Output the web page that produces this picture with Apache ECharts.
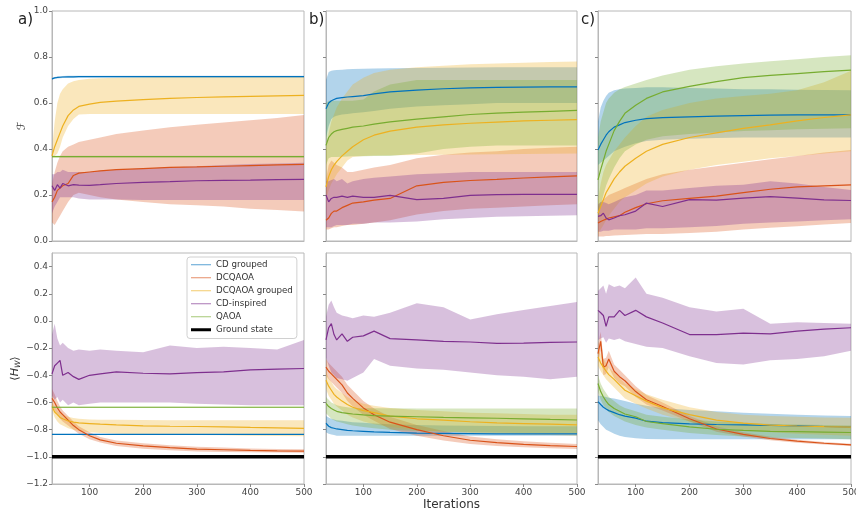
<!DOCTYPE html>
<html>
<head>
<meta charset="utf-8">
<script src="https://cdn.jsdelivr.net/npm/echarts@6/dist/echarts.min.js"></script>
<style>
  html, body { margin: 0; padding: 0; background: #fff; }
  #chart { width: 856px; height: 511px; }
</style>
</head>
<body>
<div id="chart"></div>
<script>
const iters = [30, 35, 40, 45, 50, 60, 70, 80, 100, 120, 150, 200, 250, 300, 350, 400, 450, 500];
const xTicks = [100, 200, 300, 400, 500];
const fTicks = [0, 0.2, 0.4, 0.6, 0.8, 1.0];
const hTicks = [-1.2, -1.0, -0.8, -0.6, -0.4, -0.2, 0.0, 0.2, 0.4];
const methods = ['CD grouped', 'DCQAOA', 'DCQAOA grouped', 'CD-inspired', 'QAOA'];
const colors = ['#0072BD', '#D95319', '#EDB120', '#7E2F8E', '#77AC30'];
const groundState = -1.0;

// each entry: [lower, mean, upper]
// a) fidelity
const aF_cdg = [
  [.701,.705,.707,.708,.709,.710,.710,.711,.711,.711,.711,.711,.711,.711,.711,.711,.711,.711],
  [.705,.709,.711,.712,.713,.714,.714,.715,.715,.715,.715,.715,.715,.715,.715,.715,.715,.715],
  [.709,.713,.715,.716,.717,.718,.718,.719,.719,.719,.719,.719,.719,.719,.719,.719,.719,.719]];
const aF_dcq = [
  [.08,.07,.09,.11,.13,.17,.20,.21,.20,.19,.18,.17,.16,.155,.15,.14,.135,.128],
  [.17,.19,.22,.23,.24,.25,.285,.295,.30,.305,.31,.315,.32,.322,.325,.328,.331,.333],
  [.25,.30,.34,.37,.39,.41,.42,.43,.44,.45,.465,.48,.495,.505,.515,.525,.535,.548]];
const aF_dcqg = [
  [.36,.37,.38,.41,.45,.50,.53,.55,.552,.552,.552,.552,.552,.552,.552,.552,.552,.552],
  [.37,.41,.44,.47,.50,.545,.57,.585,.595,.603,.608,.615,.62,.624,.627,.629,.631,.633],
  [.40,.52,.60,.64,.66,.685,.695,.70,.705,.708,.71,.712,.714,.715,.716,.716,.716,.716]];
const aF_cdi = [
  [.12,.15,.17,.19,.19,.19,.19,.185,.18,.18,.18,.178,.178,.178,.178,.178,.178,.178],
  [.24,.22,.245,.23,.25,.24,.245,.243,.242,.245,.25,.255,.258,.262,.264,.265,.267,.268],
  [.29,.29,.30,.30,.31,.30,.30,.30,.30,.305,.31,.315,.32,.325,.33,.335,.337,.34]];
const aF_qaoa = [
  [.363,.363,.363,.363,.363,.363,.363,.363,.363,.363,.363,.363,.363,.363,.363,.363,.363,.363],
  [.367,.367,.367,.367,.367,.367,.367,.367,.367,.367,.367,.367,.367,.367,.367,.367,.367,.367],
  [.371,.371,.371,.371,.371,.371,.371,.371,.371,.371,.371,.371,.371,.371,.371,.371,.371,.371]];

// a) energy
const aH_cdg = [
  [-.838,-.838,-.838,-.838,-.838,-.838,-.838,-.838,-.838,-.838,-.838,-.838,-.838,-.838,-.838,-.838,-.838,-.838],
  [-.835,-.835,-.835,-.835,-.835,-.835,-.835,-.835,-.835,-.835,-.835,-.835,-.835,-.835,-.835,-.835,-.835,-.835],
  [-.832,-.832,-.832,-.832,-.832,-.832,-.832,-.832,-.832,-.832,-.832,-.832,-.832,-.832,-.832,-.832,-.832,-.832]];
const aH_dcq = [
  [-.63,-.66,-.69,-.72,-.74,-.77,-.80,-.83,-.87,-.895,-.92,-.94,-.952,-.96,-.964,-.967,-.969,-.97],
  [-.57,-.60,-.64,-.67,-.69,-.73,-.77,-.80,-.845,-.875,-.90,-.92,-.933,-.943,-.948,-.953,-.956,-.958],
  [-.50,-.54,-.59,-.63,-.66,-.70,-.74,-.775,-.82,-.855,-.88,-.90,-.915,-.925,-.932,-.938,-.942,-.945]];
const aH_dcqg = [
  [-.66,-.71,-.74,-.76,-.77,-.79,-.80,-.81,-.82,-.825,-.83,-.835,-.838,-.84,-.842,-.844,-.846,-.848],
  [-.63,-.67,-.69,-.71,-.72,-.735,-.745,-.75,-.755,-.76,-.765,-.772,-.775,-.777,-.78,-.784,-.787,-.79],
  [-.60,-.63,-.66,-.68,-.69,-.705,-.715,-.72,-.725,-.727,-.728,-.729,-.73,-.73,-.73,-.73,-.73,-.73]];
const aH_cdi = [
  [-.55,-.58,-.56,-.60,-.58,-.62,-.60,-.62,-.61,-.60,-.60,-.60,-.60,-.61,-.615,-.62,-.62,-.62],
  [-.39,-.33,-.31,-.29,-.40,-.38,-.41,-.43,-.40,-.39,-.375,-.385,-.39,-.38,-.375,-.36,-.355,-.35],
  [-.10,-.02,-.13,-.18,-.16,-.20,-.22,-.21,-.22,-.21,-.22,-.23,-.18,-.20,-.19,-.20,-.21,-.14]];
const aH_qaoa = [
  [-.638,-.638,-.638,-.638,-.638,-.638,-.638,-.638,-.638,-.638,-.638,-.638,-.638,-.638,-.638,-.638,-.638,-.638],
  [-.635,-.635,-.635,-.635,-.635,-.635,-.635,-.635,-.635,-.635,-.635,-.635,-.635,-.635,-.635,-.635,-.635,-.635],
  [-.632,-.632,-.632,-.632,-.632,-.632,-.632,-.632,-.632,-.632,-.632,-.632,-.632,-.632,-.632,-.632,-.632,-.632]];

// b) fidelity
const bF_cdg = [
  [.45,.50,.53,.54,.545,.55,.552,.555,.56,.565,.575,.585,.59,.595,.60,.60,.60,.60],
  [.575,.60,.61,.615,.62,.623,.626,.628,.632,.64,.648,.656,.662,.666,.668,.669,.67,.67],
  [.70,.735,.74,.742,.744,.745,.747,.748,.749,.75,.751,.752,.753,.754,.755,.755,.755,.755]];
const bF_dcq = [
  [.05,.05,.055,.06,.06,.065,.07,.07,.075,.08,.09,.115,.13,.14,.145,.15,.155,.16],
  [.09,.10,.12,.13,.13,.145,.155,.165,.17,.178,.185,.24,.255,.263,.268,.274,.279,.283],
  [.27,.33,.35,.34,.33,.32,.30,.30,.31,.32,.33,.36,.375,.385,.39,.40,.405,.41]];
const bF_dcqg = [
  [.18,.22,.25,.27,.29,.32,.35,.365,.37,.372,.373,.374,.375,.376,.377,.378,.379,.38],
  [.235,.28,.31,.33,.345,.37,.39,.41,.44,.46,.478,.495,.505,.512,.517,.522,.525,.528],
  [.40,.47,.52,.55,.58,.62,.65,.68,.71,.73,.745,.755,.762,.768,.772,.775,.778,.78]];
const bF_cdi = [
  [.06,.06,.06,.065,.07,.07,.07,.075,.075,.08,.08,.085,.095,.10,.105,.108,.11,.112],
  [.20,.17,.185,.19,.19,.195,.19,.195,.19,.19,.198,.18,.185,.198,.202,.203,.203,.203],
  [.26,.26,.265,.27,.26,.27,.25,.26,.27,.275,.28,.29,.295,.30,.30,.30,.30,.30]];
const bF_qaoa = [
  [.33,.36,.365,.365,.365,.366,.367,.368,.369,.37,.37,.38,.40,.41,.415,.415,.415,.415],
  [.416,.45,.465,.475,.48,.485,.49,.495,.50,.508,.518,.53,.54,.55,.556,.56,.564,.568],
  [.60,.61,.61,.61,.61,.61,.61,.61,.615,.65,.68,.70,.70,.70,.70,.70,.70,.70]];

// b) energy
const bH_cdg = [
  [-.82,-.83,-.835,-.84,-.845,-.845,-.845,-.845,-.845,-.845,-.845,-.845,-.845,-.845,-.845,-.845,-.845,-.845],
  [-.753,-.775,-.785,-.79,-.795,-.80,-.805,-.808,-.812,-.816,-.82,-.825,-.827,-.829,-.831,-.831,-.831,-.831],
  [-.70,-.71,-.72,-.725,-.73,-.735,-.74,-.745,-.75,-.755,-.76,-.765,-.77,-.772,-.774,-.775,-.775,-.775]];
const bH_dcq = [
  [-.40,-.43,-.45,-.47,-.49,-.53,-.59,-.63,-.69,-.735,-.795,-.845,-.88,-.905,-.92,-.93,-.937,-.943],
  [-.34,-.37,-.39,-.41,-.43,-.47,-.53,-.57,-.64,-.69,-.745,-.80,-.845,-.878,-.895,-.908,-.917,-.924],
  [-.28,-.31,-.33,-.35,-.37,-.41,-.47,-.51,-.59,-.645,-.705,-.765,-.81,-.85,-.87,-.885,-.897,-.905]];
const bH_dcqg = [
  [-.50,-.55,-.58,-.61,-.63,-.66,-.69,-.71,-.74,-.76,-.78,-.80,-.815,-.825,-.83,-.835,-.84,-.845],
  [-.436,-.48,-.51,-.54,-.56,-.59,-.615,-.635,-.66,-.675,-.70,-.72,-.73,-.742,-.75,-.755,-.76,-.765],
  [-.37,-.42,-.45,-.48,-.50,-.53,-.56,-.58,-.61,-.625,-.64,-.655,-.665,-.675,-.68,-.685,-.69,-.69]];
const bH_cdi = [
  [-.27,-.33,-.38,-.40,-.42,-.43,-.44,-.42,-.38,-.28,-.33,-.35,-.36,-.38,-.40,-.41,-.43,-.41],
  [-.14,-.05,-.02,-.10,-.14,-.095,-.15,-.12,-.11,-.075,-.13,-.14,-.15,-.155,-.165,-.163,-.158,-.155],
  [.03,.12,.15,.10,.06,.04,.03,.02,.04,.03,.06,.13,.10,.01,.05,.08,.11,.14]];
const bH_qaoa = [
  [-.68,-.70,-.72,-.73,-.74,-.75,-.76,-.77,-.78,-.79,-.80,-.81,-.815,-.82,-.822,-.824,-.826,-.827],
  [-.607,-.63,-.645,-.655,-.665,-.675,-.68,-.685,-.692,-.697,-.70,-.705,-.71,-.713,-.716,-.72,-.725,-.729],
  [-.56,-.58,-.60,-.61,-.62,-.63,-.635,-.64,-.643,-.643,-.643,-.644,-.644,-.644,-.645,-.645,-.645,-.645]];

// c) fidelity
const cF_cdg = [
  [.33,.34,.35,.36,.37,.39,.40,.41,.425,.435,.44,.445,.448,.45,.45,.45,.45,.45],
  [.396,.42,.44,.46,.475,.495,.505,.515,.525,.532,.536,.54,.543,.545,.547,.548,.548,.548],
  [.52,.58,.61,.63,.645,.655,.66,.663,.665,.668,.668,.665,.663,.66,.66,.658,.656,.655]];
const cF_dcq = [
  [.02,.02,.02,.022,.022,.024,.025,.026,.028,.03,.03,.035,.04,.05,.058,.064,.072,.078],
  [.078,.085,.09,.095,.10,.105,.11,.125,.145,.162,.175,.185,.195,.21,.225,.235,.24,.244],
  [.15,.17,.18,.19,.20,.21,.22,.23,.25,.27,.29,.31,.325,.34,.355,.37,.385,.396]];
const cF_dcqg = [
  [.03,.05,.07,.09,.11,.14,.17,.19,.22,.25,.28,.31,.33,.345,.36,.37,.38,.39],
  [.121,.15,.18,.21,.23,.27,.30,.325,.36,.39,.42,.45,.47,.49,.505,.522,.537,.548],
  [.18,.25,.30,.33,.35,.39,.42,.45,.50,.54,.57,.60,.62,.63,.64,.655,.69,.74]];
const cF_cdi = [
  [.04,.04,.045,.045,.045,.05,.05,.05,.05,.055,.055,.06,.065,.075,.08,.085,.09,.095],
  [.107,.11,.121,.10,.092,.10,.11,.114,.13,.165,.15,.18,.178,.186,.193,.186,.179,.176],
  [.16,.17,.17,.165,.16,.17,.18,.19,.20,.22,.22,.23,.24,.245,.26,.25,.235,.222]];
const cF_qaoa = [
  [.10,.15,.20,.24,.27,.32,.36,.39,.42,.44,.455,.465,.472,.478,.482,.486,.488,.49],
  [.266,.31,.35,.39,.42,.48,.52,.555,.59,.62,.648,.672,.693,.71,.72,.728,.736,.743],
  [.45,.52,.56,.60,.62,.645,.66,.67,.685,.70,.72,.745,.76,.772,.782,.79,.80,.808]];

// c) energy
const cH_cdg = [
  [-.73,-.76,-.78,-.80,-.81,-.83,-.845,-.855,-.863,-.868,-.87,-.87,-.87,-.87,-.87,-.87,-.87,-.87],
  [-.594,-.615,-.635,-.648,-.66,-.675,-.69,-.70,-.715,-.738,-.748,-.758,-.762,-.765,-.768,-.772,-.777,-.782],
  [-.55,-.55,-.555,-.56,-.565,-.57,-.58,-.59,-.61,-.625,-.64,-.655,-.665,-.675,-.683,-.69,-.695,-.70]];
const cH_dcq = [
  [-.31,-.22,-.40,-.39,-.34,-.42,-.46,-.48,-.56,-.615,-.66,-.74,-.815,-.85,-.878,-.896,-.91,-.921],
  [-.24,-.15,-.34,-.33,-.28,-.37,-.41,-.44,-.52,-.58,-.63,-.72,-.795,-.835,-.865,-.885,-.90,-.912],
  [-.17,-.08,-.28,-.27,-.22,-.32,-.36,-.40,-.48,-.545,-.60,-.70,-.775,-.82,-.852,-.874,-.89,-.903]];
const cH_dcqg = [
  [-.33,-.37,-.40,-.43,-.45,-.49,-.53,-.57,-.61,-.645,-.69,-.74,-.78,-.805,-.82,-.83,-.838,-.845],
  [-.265,-.31,-.34,-.37,-.395,-.43,-.47,-.51,-.55,-.59,-.64,-.69,-.73,-.752,-.766,-.773,-.778,-.782],
  [-.20,-.24,-.28,-.31,-.34,-.38,-.42,-.46,-.50,-.54,-.58,-.635,-.67,-.69,-.70,-.705,-.71,-.712]];
const cH_cdi = [
  [-.14,-.13,-.12,-.16,-.13,-.14,-.13,-.15,-.17,-.19,-.20,-.26,-.31,-.32,-.29,-.28,-.26,-.22],
  [.078,.06,.04,-.04,.03,.03,.078,.04,.078,.03,-.015,-.10,-.10,-.09,-.095,-.075,-.06,-.05],
  [.22,.24,.26,.20,.27,.25,.26,.24,.32,.20,.17,.10,.07,.09,-.02,-.01,-.015,-.02]];
const cH_qaoa = [
  [-.52,-.58,-.62,-.65,-.67,-.70,-.72,-.74,-.765,-.785,-.80,-.825,-.84,-.85,-.858,-.862,-.866,-.87],
  [-.46,-.52,-.56,-.59,-.615,-.645,-.665,-.685,-.705,-.74,-.755,-.78,-.797,-.805,-.812,-.815,-.818,-.821],
  [-.40,-.46,-.50,-.53,-.56,-.59,-.62,-.64,-.665,-.69,-.705,-.725,-.74,-.75,-.758,-.762,-.766,-.77]];

const panelData = [
  [aF_cdg, aF_dcq, aF_dcqg, aF_cdi, aF_qaoa],
  [bF_cdg, bF_dcq, bF_dcqg, bF_cdi, bF_qaoa],
  [cF_cdg, cF_dcq, cF_dcqg, cF_cdi, cF_qaoa],
  [aH_cdg, aH_dcq, aH_dcqg, aH_cdi, aH_qaoa],
  [bH_cdg, bH_dcq, bH_dcqg, bH_cdi, bH_qaoa],
  [cH_cdg, cH_dcq, cH_dcqg, cH_cdi, cH_qaoa]
];

const font = 'DejaVu Sans';
const lefts = [52, 326, 598];
const widths = [252, 251, 253];
const fmt = v => v.toFixed(1).replace('-', '\u2212');
const pts = ys => iters.map((x, i) => [x, ys[i]]);

// shaded spread between lower and upper, drawn once as a polygon through api.coord
function bandItem(color) {
  return function (params, api) {
    if (params.dataIndexInside !== 0) return null;
    const n = params.dataInsideLength;
    const up = [], dn = [];
    for (let i = 0; i < n; i++) {
      const x = api.value(0, i);
      dn.push(api.coord([x, api.value(1, i)]));
      up.push(api.coord([x, api.value(2, i)]));
    }
    return {
      type: 'polygon', silent: true,
      shape: { points: dn.concat(up.reverse()) },
      style: { fill: color, opacity: 0.3 }
    };
  };
}

const lineIcon = 'path://M0,0H20V0.05H0Z M0,1.4H20V2.6H0Z M0,3.95H20V4H0Z';
const thickIcon = 'path://M0,0H20V0.05H0Z M0,0.5H20V3.5H0Z M0,3.95H20V4H0Z';

const grid = [], xAxis = [], yAxis = [], series = [];
for (let g = 0; g < 6; g++) {
  const col = g % 3, bottom = g >= 3;
  grid.push({
    left: lefts[col], width: widths[col],
    top: bottom ? 253 : 11, height: bottom ? 231 : 230,
    outerBoundsMode: 'none', containLabel: false,
    show: true, borderColor: '#b8b8b8', borderWidth: 1
  });
  xAxis.push({
    type: 'value', gridIndex: g, min: 30, max: 500,
    axisLine: { show: true, onZero: false, lineStyle: { color: '#b8b8b8' } },
    axisTick: { show: bottom, length: 3, lineStyle: { color: '#888' }, customValues: xTicks },
    axisLabel: { show: bottom, margin: 4, fontSize: 9, color: '#444', fontFamily: font, customValues: xTicks },
    splitLine: { show: false },
    name: g === 4 ? 'Iterations' : '',
    nameLocation: 'middle', nameGap: 15,
    nameTextStyle: { fontSize: 12, color: '#333', fontFamily: font }
  });
  const ticks = bottom ? hTicks : fTicks;
  const y = {
    type: 'value', gridIndex: g,
    min: bottom ? -1.2 : 0, max: bottom ? 0.5 : 1,
    axisLine: { show: true, onZero: false, lineStyle: { color: '#b8b8b8' } },
    axisTick: { show: true, length: 3, lineStyle: { color: '#888' }, customValues: ticks },
    axisLabel: { show: col === 0, margin: 4, fontSize: 9, color: '#444', fontFamily: font,
      customValues: ticks, formatter: fmt },
    splitLine: { show: false }
  };
  if (g === 0) {
    y.name = '\u2131';
    y.nameLocation = 'middle';
    y.nameGap = 24;
    y.nameTextStyle = { fontSize: 11, color: '#333', fontFamily: font };
  }
  if (g === 3) {
    y.name = '\u27E8{i|H}{s|W}\u27E9';
    y.nameLocation = 'middle';
    y.nameGap = 30;
    y.nameTextStyle = {
      fontSize: 11, color: '#333', fontFamily: font,
      rich: {
        i: { fontSize: 11, fontStyle: 'italic', color: '#333', fontFamily: font },
        s: { fontSize: 7.5, fontStyle: 'italic', color: '#333', fontFamily: font, padding: [5, 0, 0, 0] }
      }
    };
  }
  yAxis.push(y);

  panelData[g].forEach((d, m) => {
    series.push({
      type: 'custom', xAxisIndex: g, yAxisIndex: g, z: 1, silent: true,
      data: iters.map((x, i) => [x, d[0][i], d[2][i]]),
      encode: { x: 0, y: [1, 2] },
      renderItem: bandItem(colors[m])
    });
  });
  if (bottom) {
    series.push({
      name: 'Ground state', type: 'line', xAxisIndex: g, yAxisIndex: g,
      data: iters.map(x => [x, groundState]), symbol: 'none', z: 3,
      color: '#000', lineStyle: { color: '#000', width: 3.5 }
    });
  }
  panelData[g].forEach((d, m) => {
    series.push({
      name: methods[m], type: 'line', xAxisIndex: g, yAxisIndex: g,
      data: pts(d[1]), symbol: 'none', z: 4,
      color: colors[m], lineStyle: { color: colors[m], width: 1.2 }
    });
  });
}

const chart = echarts.init(document.getElementById('chart'));
chart.setOption({
  animation: false,
  backgroundColor: '#fff',
  title: [
    { text: 'a)', left: 18, top: 13 },
    { text: 'b)', left: 309, top: 13 },
    { text: 'c)', left: 581, top: 13 }
  ].map(t => Object.assign(t, { padding: 0,
    textStyle: { fontSize: 15, fontWeight: 'normal', color: '#222', fontFamily: font } })),
  legend: {
    orient: 'vertical', left: 187, top: 257,
    padding: [2, 4, 3, 4], itemGap: 1.5, itemWidth: 20, itemHeight: 4,
    backgroundColor: '#fff', borderColor: '#d0d0d0', borderWidth: 1, borderRadius: 3,
    textStyle: { fontSize: 8.7, lineHeight: 11.5, color: '#333', fontFamily: font },
    data: methods.map((n, m) => ({ name: n, icon: lineIcon, itemStyle: { color: colors[m], opacity: 0.65 } }))
      .concat([{ name: 'Ground state', icon: thickIcon, itemStyle: { color: '#000' } }])
  },
  grid, xAxis, yAxis, series
});
</script>
</body>
</html>
